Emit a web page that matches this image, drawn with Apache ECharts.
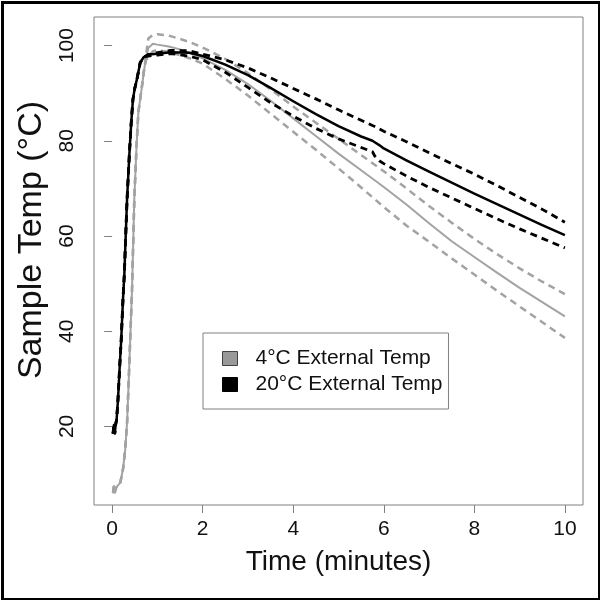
<!DOCTYPE html>
<html>
<head>
<meta charset="utf-8">
<script src="https://cdn.jsdelivr.net/npm/echarts@6/dist/echarts.min.js"></script>
<style>html,body{margin:0;padding:0;background:#fff}#c{width:600px;height:600px}</style>
</head>
<body>
<div id="c"></div>
<script>
// ---- data ----
const xTicks = [0, 2, 4, 6, 8, 10];
const yTicks = [20, 40, 60, 80, 100];
const legendNames = ['4°C External Temp', '20°C External Temp'];

const grayTime  = [0.02,0.04,0.06,0.08,0.12,0.18,0.24,0.29,0.33,0.36,0.4,0.44,0.49,0.54,0.58,0.66,0.7,0.75,0.8,0.9,1.0,1.25,1.5,1.75,2,2.5,3,3.5,4,4.5,5,5.5,6,6.5,7,7.5,8,8.5,9,9.5,10];
const grayMean  = [6,7.5,6.2,7,7.5,8.2,11,15.2,20.8,28,38.3,48.8,67.7,79,86,91.5,94.5,97.5,99.5,100.4,100.2,99.8,99.2,98.4,97.3,94.9,91.9,88.4,84.7,81,77.3,73.8,70.3,66.6,62.7,58.9,55.6,52.3,49.1,46.1,43.1];
const grayUpper = [6,7.5,6.2,7,7.5,8.2,11,15.2,20.8,28,38.3,48.8,67.7,79,86,91.5,94.5,98,101.5,102.2,102.4,102.1,101.4,100.6,99.6,97.2,94.2,90.8,87.2,83.8,80.4,77,73.6,70,66.3,62.8,59.4,56.2,53.2,50.4,47.8];
const grayLower = [6,7.5,6.2,7,7.5,8.2,11,15.2,20.8,28,38.3,48.8,67.7,79,86,91.5,94.5,97,97.5,98.8,99,98.7,98,97.2,96.2,93,89.5,85.7,81.9,78.1,74.2,70.2,66.1,62.2,58.8,55.3,51.9,48.5,45.2,41.9,38.6];

const blackTime  = [0.02,0.04,0.06,0.08,0.1,0.13,0.17,0.2,0.24,0.27,0.3,0.33,0.38,0.42,0.46,0.5,0.55,0.62,0.7,0.8,1.0,1.3,1.7,2,2.5,3,3.5,4,4.5,5,5.5,5.75,5.8,5.9,6,6.5,7,7.5,8,8.5,9,9.5,10];
const blackMean  = [18.5,20.3,18.6,20.5,21.5,25.7,33,38,46.7,52,60,67.7,77,83.5,88.7,91,93,96.4,97.6,98.1,98.3,98.6,98.5,97.8,96,93.8,91.1,88.3,85.6,83.1,80.9,80.0,79.7,79.1,78.4,75.9,73.5,71.2,68.9,66.7,64.5,62.3,60.2];
const blackUpper = [18.5,20.3,18.6,20.5,21.5,25.7,33,38,46.7,52,60,67.7,77,83.5,88.7,91,93,96.4,97.6,98.1,98.5,99,98.9,98.2,97,95.3,93.2,91,88.8,86.5,84.3,83.2,83.0,82.5,82,79.8,77.5,75.2,73,70.6,68.1,65.6,62.9];
const blackLower = [18.5,20.3,18.6,20.5,21.5,25.7,33,38,46.7,52,60,67.7,77,83.5,88.7,91,93,96.4,97.6,97.8,98.0,98.3,97.8,97,94.4,91.2,88,85.2,82.6,80.4,78.6,77.7,76.8,75.8,75.2,72.6,70.2,68,65.8,63.6,61.5,59.5,57.5];

// ---- build ----
const pairs = (t, v) => t.map((x, i) => [x, v[i]]);
const GRAY = '#a3a3a3';
const AXIS = '#808080';
const FONT = '"Liberation Sans", Arial, sans-serif';

function lineSeries(name, t, v, color, width, dashed) {
  return {
    name: name, type: 'line', data: pairs(t, v),
    showSymbol: false, symbol: 'none', smooth: false,
    itemStyle: { color: color },
    lineStyle: { color: color, width: width, type: dashed ? [7, 5] : 'solid', cap: 'butt', join: 'round' },
    emphasis: { disabled: true }, silent: true
  };
}

const chart = echarts.init(document.getElementById('c'), null, { renderer: 'canvas' });
chart.setOption({
  animation: false,
  backgroundColor: '#fff',
  textStyle: { fontFamily: FONT },
  grid: { left: 94, right: 17, top: 17, bottom: 95, show: true, borderColor: AXIS, borderWidth: 1, backgroundColor: 'transparent' },
  xAxis: {
    type: 'value', min: -0.4, max: 10.4,
    name: 'Time (minutes)', nameLocation: 'middle', nameGap: 43,
    nameTextStyle: { fontSize: 28, color: '#111', fontFamily: FONT },
    axisLine: { show: false },
    splitLine: { show: false },
    axisTick: { show: true, length: 8, customValues: xTicks, lineStyle: { color: AXIS, width: 1 } },
    axisLabel: { customValues: xTicks, fontSize: 21, color: '#111', margin: 14, fontFamily: FONT }
  },
  yAxis: {
    type: 'value', min: 3.5, max: 106,
    name: 'Sample Temp (°C)', nameLocation: 'middle', nameGap: 44,
    nameTextStyle: { fontSize: 34, color: '#111', fontFamily: FONT, padding: [0, 0, 0, 42] },
    axisLine: { show: false },
    splitLine: { show: false },
    axisTick: { show: true, length: 8, customValues: yTicks, lineStyle: { color: AXIS, width: 1 } },
    axisLabel: { customValues: yTicks, fontSize: 21, color: '#111', margin: 16, rotate: 90, fontFamily: FONT }
  },
  legend: {
    orient: 'vertical', left: 203, top: 333,
    padding: [15, 6, 14, 19], itemGap: 5,
    itemWidth: 15, itemHeight: 14,
    borderColor: AXIS, borderWidth: 1, backgroundColor: '#fff',
    selectedMode: false,
    textStyle: { fontSize: 21, color: '#111', fontFamily: FONT, padding: [0, 0, 0, 13] },
    data: [
      { name: legendNames[0], icon: 'rect', itemStyle: { color: '#999999', borderColor: '#444', borderWidth: 1 } },
      { name: legendNames[1], icon: 'rect', itemStyle: { color: '#000000', borderColor: '#000', borderWidth: 1 } }
    ]
  },
  graphic: [{
    type: 'rect', left: 0, top: 0, silent: true, z: 100,
    shape: { x: 1.5, y: 1.5, width: 597, height: 597 },
    style: { fill: 'none', stroke: '#000', lineWidth: 3 }
  }],
  series: [
    lineSeries('4°C upper', grayTime, grayUpper, GRAY, 2.5, true),
    lineSeries('4°C lower', grayTime, grayLower, GRAY, 2.5, true),
    lineSeries(legendNames[0], grayTime, grayMean, GRAY, 2, false),
    lineSeries('20°C upper', blackTime, blackUpper, '#000', 2.8, true),
    lineSeries('20°C lower', blackTime, blackLower, '#000', 2.8, true),
    lineSeries(legendNames[1], blackTime, blackMean, '#000', 2.5, false)
  ]
});
</script>
</body>
</html>
